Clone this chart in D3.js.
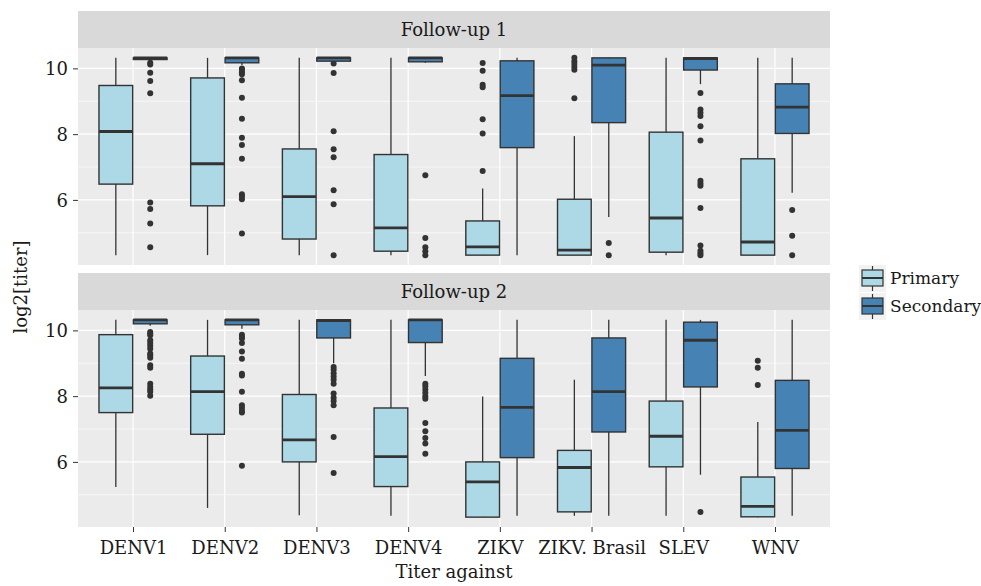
<!DOCTYPE html>
<html>
<head>
<meta charset="utf-8">
<script src="https://d3js.org/d3.v7.min.js"></script>
<style>
  body { margin: 0; background: #fff; }
  svg text { font-family: "DejaVu Serif", "Liberation Serif", serif; }
</style>
</head>
<body>
<svg id="chart" width="981" height="586"></svg>
<script>
// chart data
var categories = ["DENV1", "DENV2", "DENV3", "DENV4", "ZIKV", "ZIKV. Brasil", "SLEV", "WNV"];
var groups = ["Primary", "Secondary"];
var facets = ["Follow-up 1", "Follow-up 2"];
var yTicks = [6, 8, 10];
var yMinor = [5, 7, 9];

// box summaries per category: [whisker low, q1, median, q3, whisker high]
var fu1Primary = [
    [4.32, 6.48, 8.08, 9.48, 10.32],
    [4.32, 5.82, 7.10, 9.71, 10.32],
    [4.32, 4.81, 6.10, 7.55, 10.32],
    [4.32, 4.44, 5.15, 7.38, 10.32],
    [4.32, 4.32, 4.57, 5.36, 6.35],
    [4.32, 4.32, 4.47, 6.02, 7.94],
    [4.32, 4.41, 5.45, 8.06, 10.32],
    [4.32, 4.32, 4.72, 7.25, 10.32]
];
var fu1Secondary = [
    [10.27, 10.27, 10.32, 10.32, 10.32],
    [10.10, 10.17, 10.32, 10.32, 10.32],
    [10.22, 10.22, 10.32, 10.32, 10.32],
    [10.17, 10.20, 10.32, 10.32, 10.32],
    [4.32, 7.59, 9.17, 10.23, 10.32],
    [5.48, 8.35, 10.10, 10.32, 10.32],
    [9.52, 9.95, 10.30, 10.32, 10.32],
    [6.22, 8.02, 8.82, 9.53, 10.32]
];
var fu2Primary = [
    [5.24, 7.50, 8.25, 9.87, 10.32],
    [4.60, 6.84, 8.14, 9.22, 10.32],
    [4.38, 6.00, 6.67, 8.05, 10.32],
    [4.36, 5.25, 6.16, 7.64, 10.32],
    [4.32, 4.32, 5.39, 6.00, 7.99],
    [4.36, 4.48, 5.83, 6.35, 8.50],
    [4.36, 5.85, 6.78, 7.85, 10.32],
    [4.32, 4.33, 4.65, 5.54, 7.21]
];
var fu2Secondary = [
    [10.14, 10.20, 10.32, 10.32, 10.32],
    [10.05, 10.17, 10.32, 10.32, 10.32],
    [9.00, 9.77, 10.30, 10.32, 10.32],
    [8.61, 9.63, 10.32, 10.32, 10.32],
    [4.36, 6.13, 7.66, 9.15, 10.32],
    [4.36, 6.91, 8.14, 9.77, 10.32],
    [5.61, 8.28, 9.70, 10.25, 10.32],
    [4.36, 5.80, 6.96, 8.48, 10.32]
];

// outliers per category
var fu1PrimaryOut = [
    [], [], [], [],
    [10.16, 9.93, 9.50, 9.43, 8.45, 8.02, 6.88],
    [10.32, 10.22, 10.13, 10.04, 9.96, 9.09],
    [], []
];
var fu1SecondaryOut = [
    [10.17, 10.12, 9.87, 9.62, 9.24, 5.92, 5.72, 5.28, 4.56],
    [10.0, 9.95, 9.88, 9.82, 9.64, 9.11, 8.47, 7.89, 7.67, 7.25, 6.17, 6.10, 6.02, 4.98],
    [10.15, 9.86, 8.09, 7.54, 7.30, 6.29, 5.87, 4.32],
    [6.75, 4.84, 4.56, 4.44, 4.32],
    [],
    [4.69, 4.32],
    [9.25, 8.75, 8.65, 8.55, 8.24, 7.81, 6.58, 6.50, 6.43, 5.75, 4.61, 4.45, 4.38, 4.32],
    [5.69, 4.91, 4.32]
];
var fu2PrimaryOut = [
    [], [], [], [], [], [], [],
    [9.08, 8.86, 8.34]
];
var fu2SecondaryOut = [
    [9.95, 9.90, 9.85, 9.70, 9.62, 9.53, 9.44, 9.30, 9.24, 9.17, 8.94, 8.86, 8.38, 8.28, 8.20, 8.13, 8.01],
    [9.87, 9.80, 9.75, 9.62, 9.36, 9.14, 8.68, 8.63, 8.13, 7.72, 7.64, 7.55, 7.50, 5.88],
    [8.89, 8.80, 8.70, 8.60, 8.50, 8.38, 8.08, 7.95, 7.85, 7.72, 6.76, 5.66],
    [8.38, 8.30, 8.20, 8.10, 8.00, 7.92, 7.18, 6.93, 6.73, 6.56, 6.25],
    [], [], [4.48], []
];

var colors = { "Primary": "#add8e6", "Secondary": "#4682b4" };
var ink = "#333333";
var textCol = "#1a1a1a";
var fontSize = "18px";

var svg = d3.select("#chart");
var left = 78, right = 830;
var stripH = 37, plotH = 217, gap = 8, top0 = 11;
var pw = right - left;

var x = d3.scalePoint().domain(categories).range([0, pw]).padding(0.6);
var step = x.step();
var dodge = d3.scaleBand().domain(groups).range([-0.375 * step, 0.375 * step]);
var y = d3.scaleLinear().domain([4.02, 10.62]).range([plotH, 0]);

var facetData = [
    { name: facets[0], boxes: [fu1Primary, fu1Secondary], outs: [fu1PrimaryOut, fu1SecondaryOut] },
    { name: facets[1], boxes: [fu2Primary, fu2Secondary], outs: [fu2PrimaryOut, fu2SecondaryOut] }
];

facetData.forEach(function(f, fi) {
    var stripTop = top0 + fi * (stripH + plotH + gap);
    var g = svg.append("g").attr("transform", "translate(" + left + "," + stripTop + ")");

    // strip
    g.append("rect").attr("width", pw).attr("height", stripH).attr("fill", "#d9d9d9");
    g.append("text")
        .attr("x", pw / 2).attr("y", stripH / 2 + 6)
        .attr("text-anchor", "middle")
        .style("font-size", fontSize).style("fill", textCol)
        .text(f.name);

    var p = g.append("g").attr("transform", "translate(0," + stripH + ")");
    p.append("rect").attr("width", pw).attr("height", plotH).attr("fill", "#ebebeb");

    // grid
    p.selectAll(".minor").data(yMinor).enter().append("line")
        .attr("x1", 0).attr("x2", pw)
        .attr("y1", function(d) { return y(d); }).attr("y2", function(d) { return y(d); })
        .attr("stroke", "#fff").attr("stroke-width", 0.6);
    p.selectAll(".major").data(yTicks).enter().append("line")
        .attr("x1", 0).attr("x2", pw)
        .attr("y1", function(d) { return y(d); }).attr("y2", function(d) { return y(d); })
        .attr("stroke", "#fff").attr("stroke-width", 1.2);
    p.selectAll(".xgrid").data(categories).enter().append("line")
        .attr("x1", function(d) { return x(d); }).attr("x2", function(d) { return x(d); })
        .attr("y1", 0).attr("y2", plotH)
        .attr("stroke", "#fff").attr("stroke-width", 1.2);

    // y axis
    var yAxis = p.append("g")
        .call(d3.axisLeft(y).tickValues(yTicks).tickSize(5).tickPadding(5).tickFormat(d3.format("d")));
    yAxis.attr("font-family", null);
    yAxis.select(".domain").remove();
    yAxis.selectAll("line").attr("stroke", ink);
    yAxis.selectAll("text").style("font-size", fontSize).style("fill", textCol).attr("dy", "0.34em");

    // x axis on the bottom panel only
    if (fi == facetData.length - 1) {
        var xAxis = p.append("g")
            .attr("transform", "translate(0," + plotH + ")")
            .call(d3.axisBottom(x).tickSize(5).tickPadding(9));
        xAxis.attr("font-family", null);
        xAxis.select(".domain").remove();
        xAxis.selectAll("line").attr("stroke", ink);
        xAxis.selectAll("text").style("font-size", fontSize).style("fill", textCol);
    }

    // boxes
    groups.forEach(function(grp, gi) {
        var rows = f.boxes[gi].map(function(s, i) {
            return { cat: categories[i], s: s, out: f.outs[gi][i] };
        });
        var bw = dodge.bandwidth() * 0.98;
        var cx = function(d) { return x(d.cat) + dodge(grp) + dodge.bandwidth() / 2; };

        var b = p.selectAll(".box" + gi).data(rows).enter().append("g");

        b.selectAll("circle").data(function(d) { return d.out.map(function(v) { return { cat: d.cat, v: v }; }); })
            .enter().append("circle")
            .attr("cx", cx)
            .attr("cy", function(d) { return y(d.v); })
            .attr("r", 3)
            .attr("fill", ink);

        b.append("line")
            .attr("x1", cx).attr("x2", cx)
            .attr("y1", function(d) { return y(d.s[0]); })
            .attr("y2", function(d) { return y(d.s[4]); })
            .attr("stroke", ink).attr("stroke-width", 1.3);

        b.append("rect")
            .attr("x", function(d) { return cx(d) - bw / 2; })
            .attr("y", function(d) { return y(d.s[3]); })
            .attr("width", bw)
            .attr("height", function(d) { return Math.max(1, y(d.s[1]) - y(d.s[3])); })
            .attr("fill", colors[grp])
            .attr("stroke", ink).attr("stroke-width", 1.4);

        b.append("line")
            .attr("x1", function(d) { return cx(d) - bw / 2; })
            .attr("x2", function(d) { return cx(d) + bw / 2; })
            .attr("y1", function(d) { return y(d.s[2]); })
            .attr("y2", function(d) { return y(d.s[2]); })
            .attr("stroke", ink).attr("stroke-width", 2.8);
    });
});

// axis titles
svg.append("text")
    .attr("x", left + pw / 2).attr("y", 578)
    .attr("text-anchor", "middle")
    .style("font-size", fontSize).style("fill", textCol)
    .text("Titer against");

svg.append("text")
    .attr("transform", "translate(27," + (top0 + stripH + plotH + gap / 2 + 18) + ") rotate(-90)")
    .attr("text-anchor", "middle")
    .style("font-size", fontSize).style("fill", textCol)
    .text("log2[titer]");

// legend
var legend = svg.append("g").attr("transform", "translate(859,265)");
var key = legend.selectAll(".key").data(groups).enter().append("g")
    .attr("transform", function(d, i) { return "translate(0," + (i * 28) + ")"; });

key.append("rect").attr("width", 27).attr("height", 27).attr("fill", "#f2f2f2");
key.append("line")
    .attr("x1", 13.5).attr("x2", 13.5).attr("y1", 1).attr("y2", 26)
    .attr("stroke", ink).attr("stroke-width", 1.2);
key.append("rect")
    .attr("x", 3).attr("y", 5).attr("width", 21).attr("height", 16)
    .attr("fill", function(d) { return colors[d]; })
    .attr("stroke", ink).attr("stroke-width", 1.2);
key.append("line")
    .attr("x1", 3).attr("x2", 24).attr("y1", 13).attr("y2", 13)
    .attr("stroke", ink).attr("stroke-width", 2);
key.append("text")
    .attr("x", 31).attr("y", 19)
    .style("font-size", "17px").style("fill", textCol)
    .text(function(d) { return d; });
</script>
</body>
</html>
